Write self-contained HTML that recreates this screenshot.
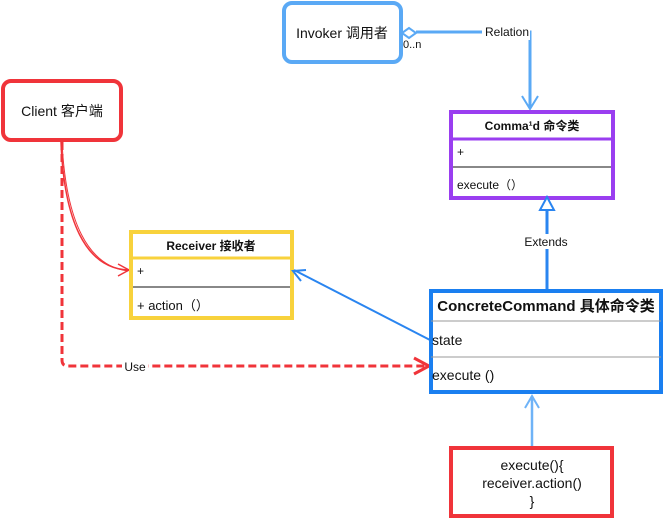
<!DOCTYPE html>
<html><head><meta charset="utf-8"><style>
html,body{margin:0;padding:0;background:#fff;}
svg{display:block;}
text{font-family:"Liberation Sans","Noto Sans CJK SC",sans-serif;fill:#111;}
</style></head><body>
<svg width="663" height="518" viewBox="0 0 663 518" xmlns="http://www.w3.org/2000/svg">
<!-- Invoker -->
<rect x="284" y="3" width="117" height="59" rx="8" fill="#fff" stroke="#5aa9f5" stroke-width="4"/>
<text x="342" y="38" font-size="14" text-anchor="middle">Invoker 调用者</text>
<!-- Relation -->
<path d="M416,32 L530,32 L530,108" fill="none" stroke="#5aa9f5" stroke-width="3"/>
<path d="M402,33 L409,28 L416,33 L409,38 Z" fill="#fff" stroke="#5aa9f5" stroke-width="2"/>
<path d="M522,96 L530,109 L538,96" fill="none" stroke="#5aa9f5" stroke-width="2"/>
<rect x="482" y="24" width="48" height="16" fill="#fff"/>
<text x="507" y="36" font-size="12" text-anchor="middle">Relation</text>
<text x="403" y="48" font-size="11">0..n</text>
<!-- Command -->
<rect x="451" y="112" width="162" height="86" fill="#fff" stroke="#9a3ef0" stroke-width="4"/>
<line x1="451" y1="139" x2="613" y2="139" stroke="#9a3ef0" stroke-width="3"/>
<line x1="453" y1="167" x2="611" y2="167" stroke="#111" stroke-width="1"/>
<text x="532" y="130" font-size="12" font-weight="bold" text-anchor="middle">Comma¹d 命令类</text>
<text x="457" y="156" font-size="12">+</text>
<text x="457" y="189" font-size="12">execute（）</text>
<!-- Extends -->
<line x1="547" y1="210" x2="547" y2="290" stroke="#2a85f0" stroke-width="3"/>
<path d="M540,210 L547,197 L554,210 Z" fill="#fff" stroke="#2a85f0" stroke-width="2"/>
<rect x="521" y="234" width="50" height="15" fill="#fff"/>
<text x="546" y="246" font-size="12" text-anchor="middle">Extends</text>
<!-- Client -->
<rect x="3" y="81" width="118" height="59" rx="8" fill="#fff" stroke="#f0343a" stroke-width="4"/>
<text x="62" y="116" font-size="14" text-anchor="middle">Client 客户端</text>
<path d="M61,142 C64,220 85,268 128,270" fill="none" stroke="#f0343a" stroke-width="1.5"/>
<path d="M62,142 C66,222 88,266 128,271" fill="none" stroke="#f0343a" stroke-width="1"/>
<path d="M118,264 L129,270 L118,276" fill="none" stroke="#f0343a" stroke-width="1.5"/>
<path d="M62,142 L62,360 Q62,366 68,366 L428,366" fill="none" stroke="#f0343a" stroke-width="3" stroke-dasharray="8,4"/>
<path d="M414,358 L429,366 L414,374" fill="none" stroke="#f0343a" stroke-width="3"/>
<rect x="122" y="359" width="26" height="14" fill="#fff"/>
<text x="135" y="371" font-size="12" text-anchor="middle">Use</text>
<!-- Receiver -->
<rect x="131" y="232" width="161" height="86" fill="#fff" stroke="#f8d23c" stroke-width="4"/>
<line x1="131" y1="258" x2="292" y2="258" stroke="#f8d23c" stroke-width="3"/>
<line x1="133" y1="287" x2="290" y2="287" stroke="#111" stroke-width="1"/>
<text x="211" y="250" font-size="12" font-weight="bold" text-anchor="middle">Receiver 接收者</text>
<text x="137" y="275" font-size="12">+</text>
<text x="137" y="310" font-size="13">+ action（）</text>
<!-- Receiver arrow -->
<line x1="430" y1="340" x2="294" y2="270" stroke="#2a85f0" stroke-width="2"/>
<path d="M306,270 L293,271 L301,281" fill="none" stroke="#2a85f0" stroke-width="2"/>
<!-- ConcreteCommand -->
<rect x="431" y="291" width="230" height="101" fill="#fff" stroke="#1a7ff0" stroke-width="4"/>
<line x1="431" y1="321" x2="661" y2="321" stroke="#999" stroke-width="1"/>
<line x1="431" y1="357" x2="661" y2="357" stroke="#999" stroke-width="1"/>
<text x="546" y="311" font-size="15" font-weight="bold" text-anchor="middle">ConcreteCommand 具体命令类</text>
<text x="432" y="345" font-size="14">state</text>
<text x="432" y="380" font-size="14">execute ()</text>
<!-- bottom box -->
<line x1="532" y1="447" x2="532" y2="396" stroke="#6fb3f7" stroke-width="2.5"/>
<path d="M525,408 L532,396 L539,408" fill="none" stroke="#6fb3f7" stroke-width="2"/>
<rect x="451" y="448" width="161" height="68" fill="#fff" stroke="#f0343a" stroke-width="4"/>
<text x="532" y="470" font-size="14" text-anchor="middle">execute(){</text>
<text x="532" y="488" font-size="14" text-anchor="middle">receiver.action()</text>
<text x="532" y="506" font-size="14" text-anchor="middle">}</text>
</svg>
</body></html>
